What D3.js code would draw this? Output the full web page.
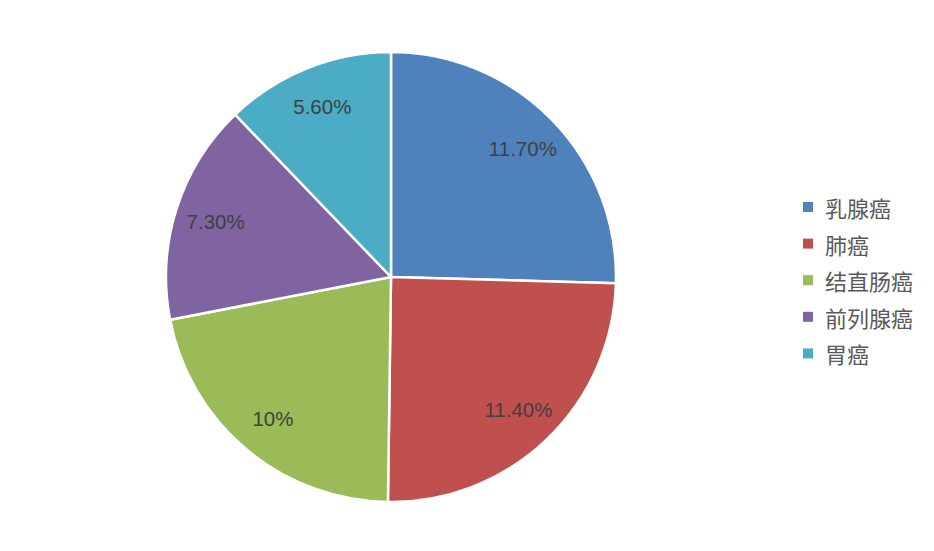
<!DOCTYPE html>
<html><head><meta charset="utf-8">
<script src="https://cdn.jsdelivr.net/npm/d3@7/dist/d3.min.js"></script>
<style>body{margin:0;background:#fff;}svg{display:block;}</style>
</head><body>
<svg id="chart" width="934" height="551"></svg>
<script>
const categories = ["乳腺癌", "肺癌", "结直肠癌", "前列腺癌", "胃癌"];
const values = [11.7, 11.4, 10, 7.3, 5.6];
const valueLabels = ["11.70%", "11.40%", "10%", "7.30%", "5.60%"];
const colors = ["#4F81BD", "#C0504D", "#9BBB59", "#8064A2", "#4BACC6"];

const svg = d3.select("#chart");
const cx = 391, cy = 277, R = 225;
const data = categories.map((c, i) => ({cat: c, value: values[i], label: valueLabels[i], color: colors[i]}));

const pie = d3.pie().value(d => d.value).sort(null);
const arc = d3.arc().innerRadius(0).outerRadius(R);
const labelArc = d3.arc().innerRadius(184).outerRadius(184);

const g = svg.append("g").attr("transform", `translate(${cx},${cy})`);
const arcs = pie(data);
g.selectAll("path").data(arcs).join("path")
  .attr("d", arc)
  .attr("fill", d => d.data.color)
  .attr("stroke", "#fff")
  .attr("stroke-width", 2.5)
  .attr("stroke-linejoin", "round");

g.selectAll("text.lbl").data(arcs).join("text")
  .attr("class", "lbl")
  .attr("transform", d => `translate(${labelArc.centroid(d)})`)
  .attr("text-anchor", "middle")
  .attr("dominant-baseline", "central")
  .attr("font-family", "Liberation Sans, Arial, sans-serif")
  .attr("font-size", 20.5)
  .attr("fill", "#404040")
  .text(d => d.data.label);

const legend = svg.append("g").attr("transform", "translate(803,207)");
const rows = legend.selectAll("g").data(data).join("g")
  .attr("transform", (d, i) => `translate(0,${i * 36.6})`);
rows.append("rect").attr("x", 0).attr("y", -5).attr("width", 10).attr("height", 10).attr("fill", d => d.color);
rows.append("text").attr("x", 22).attr("y", 0)
  .attr("dominant-baseline", "central")
  .attr("font-family", "Noto Sans CJK SC, sans-serif")
  .attr("font-size", 22)
  .attr("fill", "#595959")
  .text(d => d.cat);
</script>
</body></html>
